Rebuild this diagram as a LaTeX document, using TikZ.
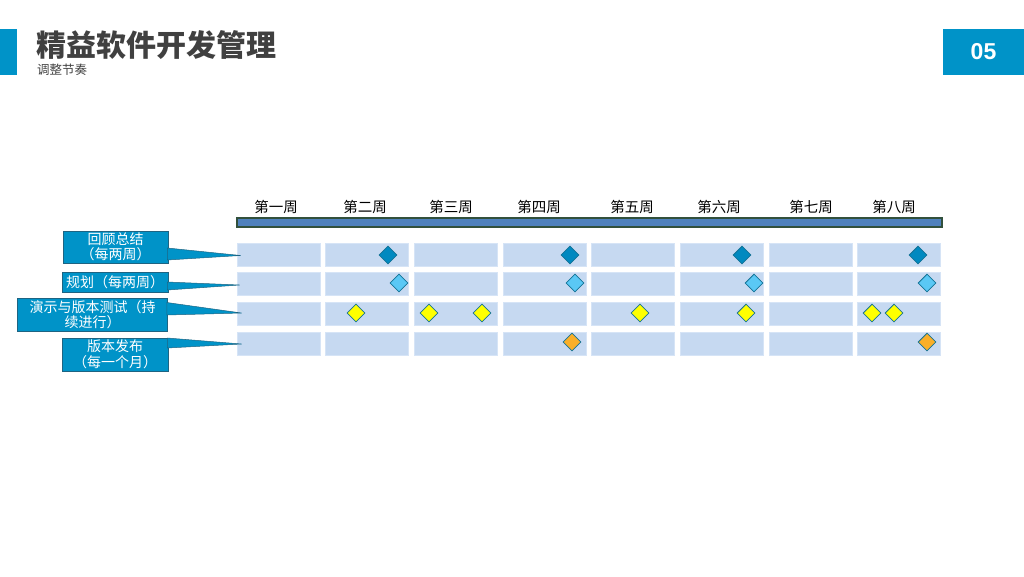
\documentclass[tikz,border=0pt]{standalone}
\usepackage{fontspec}
\setmainfont{Liberation Sans}
\newfontfamily\cjk{Noto Sans CJK SC}
\usetikzlibrary{shapes.geometric, positioning, calc}

\definecolor{brandblue}{RGB}{0,147,200}
\definecolor{calloutedge}{RGB}{30,100,130}
\definecolor{barblue}{RGB}{79,129,189}
\definecolor{baredge}{RGB}{50,80,60}
\definecolor{cellblue}{RGB}{198,217,241}
\definecolor{celledge}{RGB}{214,228,246}
\definecolor{titlegray}{RGB}{64,64,64}
\definecolor{mkdark}{RGB}{0,137,192}
\definecolor{mklight}{RGB}{90,200,245}
\definecolor{mkyellow}{RGB}{255,255,0}
\definecolor{mkorange}{RGB}{250,175,40}
\definecolor{mkedge}{RGB}{20,115,150}

\begin{document}
\begin{tikzpicture}[
    x=1pt, y=-1pt,
    week/.style={font=\cjk\fontsize{14.5}{16}\selectfont, text=black, inner sep=0pt},
    cell/.style={rectangle, draw=celledge, fill=cellblue, line width=1pt, minimum width=83pt, minimum height=23pt, inner sep=0pt},
    callout/.style={rectangle, draw=calloutedge, fill=brandblue, line width=0.6pt, align=center, inner sep=0pt, text=white, font=\cjk\fontsize{14}{15.5}\selectfont},
    pointer/.style={fill=brandblue, draw=calloutedge, line width=0.5pt, line join=miter},
    marker/.style={diamond, draw=mkedge, line width=0.8pt, minimum width=18pt, minimum height=18pt, inner sep=0pt},
]
    \useasboundingbox (0,0) rectangle (1024,576);

    % Header
    \fill[brandblue] (0,29) rectangle (17,75);
    \node[anchor=west, inner sep=0pt, text=titlegray, font=\cjk\fontsize{30}{32}\selectfont\bfseries] (title) at (36,45) {精益软件开发管理};
    \node[anchor=west, inner sep=0pt, text=titlegray, font=\cjk\fontsize{12.5}{14}\selectfont] (subtitle) at (37,70) {调整节奏};
    \node[fill=brandblue, minimum width=81pt, minimum height=46pt, inner sep=0pt, text=white, font=\fontsize{23}{25}\selectfont\bfseries] (pageno) at (983.5,52) {05};

    % Week labels and timeline bar
    \node[week] (w1) at (276,207) {第一周};
    \node[week] (w2) at (365,207) {第二周};
    \node[week] (w3) at (451,207) {第三周};
    \node[week] (w4) at (539,207) {第四周};
    \node[week] (w5) at (632,207) {第五周};
    \node[week] (w6) at (719,207) {第六周};
    \node[week] (w7) at (811,207) {第七周};
    \node[week] (w8) at (894,207) {第八周};
    \draw[baredge, fill=barblue, line width=1.2pt] (237,218) rectangle (942,227);

    % Grid of cells
    \foreach \r/\y in {1/254.5, 2/283.5, 3/313.5, 4/343.5}
        \foreach \c in {1,...,8}
            \node[cell] (c-\r-\c) at ({278.5+(\c-1)*88.7},\y) {};

    % Row labels
    \node[callout, minimum width=105pt, minimum height=32pt] (review)  at (115.5,247) {回顾总结\\（每两周）};
    \node[callout, minimum width=106pt, minimum height=20pt] (plan)    at (115,282)   {规划（每两周）};
    \node[callout, minimum width=150pt, minimum height=33pt] (demo)    at (92.5,314.5) {演示与版本测试（持\\续进行）};
    \node[callout, minimum width=106pt, minimum height=33pt] (release) at (115,354.5) {版本发布\\（每一个月）};

    % Pointers: labels to first cell of each row
    \filldraw[pointer] ($(review.east)+(-1,1)$) -- ($(c-1-1.west)+(4,1)$) -- ($(review.east)+(-1,13)$) -- cycle;
    \filldraw[pointer] ($(plan.east)+(-1,0)$) -- ($(c-2-1.west)+(3,1.5)$) -- ($(plan.east)+(-1,8)$) -- cycle;
    \filldraw[pointer] ($(demo.east)+(-1,-12)$) -- ($(c-3-1.west)+(5,-0.5)$) -- ($(demo.east)+(-1,0.5)$) -- cycle;
    \filldraw[pointer] ($(release.east)+(-1,-16.5)$) -- ($(c-4-1.west)+(5,0.5)$) -- ($(release.east)+(-1,-6.5)$) -- cycle;

    % Markers: review
    \node[marker, fill=mkdark] (r1) at (388,255) {};
    \node[marker, fill=mkdark] (r2) at (570,255) {};
    \node[marker, fill=mkdark] (r3) at (742,255) {};
    \node[marker, fill=mkdark] (r4) at (918,255) {};

    % Markers: planning
    \node[marker, fill=mklight] (p1) at (399,283) {};
    \node[marker, fill=mklight] (p2) at (575,283) {};
    \node[marker, fill=mklight] (p3) at (754,283) {};
    \node[marker, fill=mklight] (p4) at (927,283) {};

    % Markers: demo and testing
    \node[marker, fill=mkyellow] (d1) at (356,313) {};
    \node[marker, fill=mkyellow] (d2) at (429,313) {};
    \node[marker, fill=mkyellow] (d3) at (482,313) {};
    \node[marker, fill=mkyellow] (d4) at (640,313) {};
    \node[marker, fill=mkyellow] (d5) at (746,313) {};
    \node[marker, fill=mkyellow] (d6) at (872,313) {};
    \node[marker, fill=mkyellow] (d7) at (894,313) {};

    % Markers: release
    \node[marker, fill=mkorange] (v1) at (572,342) {};
    \node[marker, fill=mkorange] (v2) at (927,342) {};
\end{tikzpicture}
\end{document}
